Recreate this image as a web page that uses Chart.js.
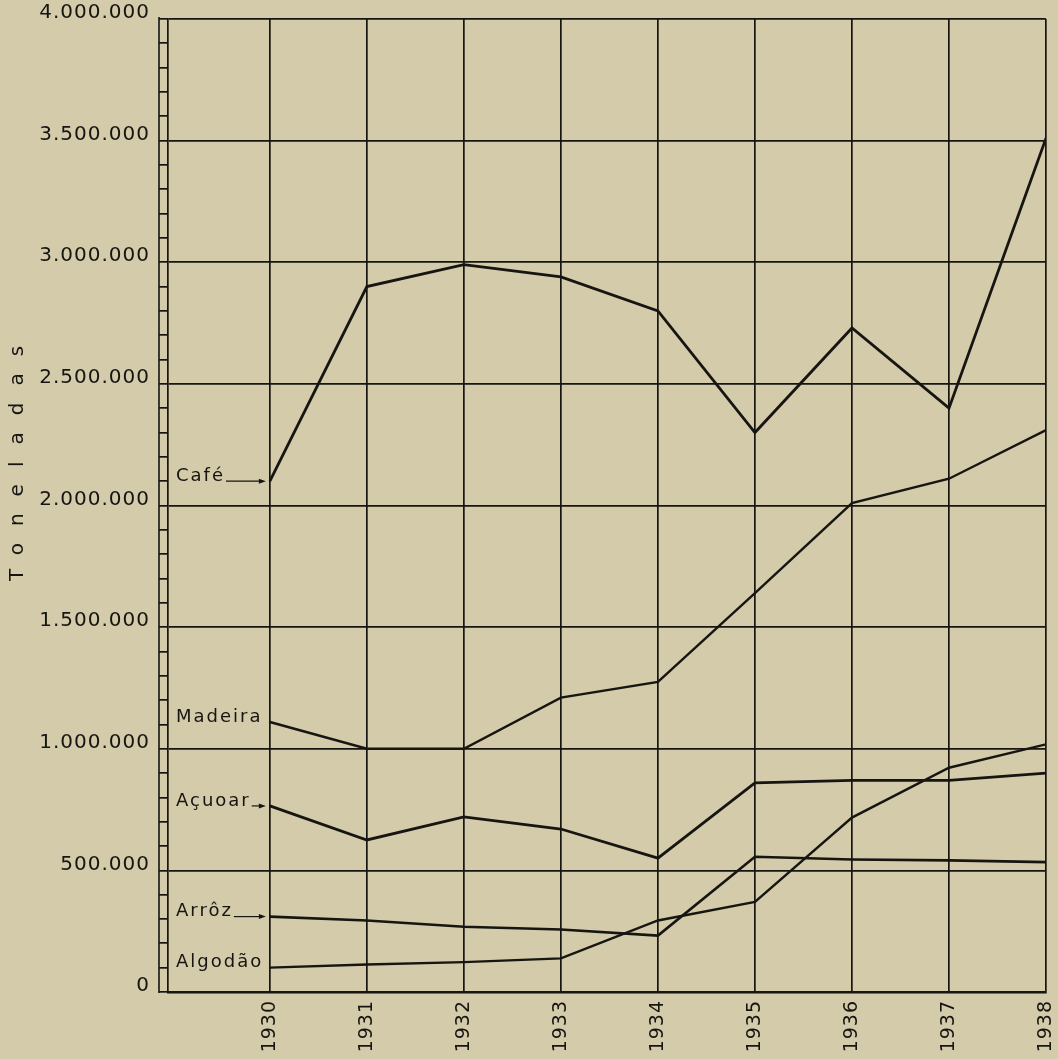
<!DOCTYPE html>
<html>
<head>
<meta charset="utf-8">
<script src="https://cdn.jsdelivr.net/npm/chart.js@4.4.1/dist/chart.umd.min.js"></script>
<style>
  html, body { margin: 0; padding: 0; background: #d3cba9; }
  #wrap { width: 1058px; height: 1059px; position: relative; }
</style>
</head>
<body>
<div id="wrap"><canvas id="Chart"></canvas></div>
<script>
const years = [1930, 1931, 1932, 1933, 1934, 1935, 1936, 1937, 1938];
const cafe = [2100000, 2900000, 2990000, 2940000, 2800000, 2300000, 2730000, 2400000, 3510000];
const madeira = [1110000, 1000000, 1000000, 1210000, 1275000, 1640000, 2010000, 2110000, 2310000];
const acuoar = [765000, 625000, 720000, 670000, 550000, 860000, 870000, 870000, 900000];
const arroz = [310000, 294000, 268000, 257000, 232000, 556000, 545000, 541000, 534000];
const algodao = [100000, 113000, 123000, 138000, 294000, 370000, 717000, 922000, 1018000];
const names = ['Café', 'Madeira', 'Açuoar', 'Arrôz', 'Algodão'];
const yTitle = 'Toneladas';

const ink = '#161512';

function pts(vals) {
  return vals.map((v, i) => ({ x: years[i], y: v }));
}

function fmt(v) {
  return String(v).replace(/\B(?=(\d{3})+(?!\d))/g, '.');
}

// labels at the start of each line, some with a little arrow
const withArrow = [true, false, true, true, false];
const seriesLabels = {
  id: 'seriesLabels',
  beforeDraw(chart) {
    chart.ctx.letterSpacing = '1px';
  },
  afterDraw(chart) {
    const ctx = chart.ctx;
    const area = chart.chartArea;
    ctx.save();
    // outer axis line
    ctx.strokeStyle = ink;
    ctx.lineWidth = 1.6;
    ctx.beginPath();
    ctx.moveTo(area.left - 9, area.top - 2);
    ctx.lineTo(area.left - 9, area.bottom + 1);
    ctx.stroke();

    ctx.fillStyle = ink;
    ctx.font = '18px "DejaVu Sans"';
    ctx.letterSpacing = '2px';
    ctx.textAlign = 'left';
    ctx.textBaseline = 'middle';
    chart.data.datasets.forEach((ds, i) => {
      const p = chart.getDatasetMeta(i).data[0];
      const x0 = area.left + 8;
      ctx.fillText(ds.label, x0, p.y - 5);
      if (withArrow[i]) {
        const w = ctx.measureText(ds.label).width;
        const xa = x0 + w + 1;
        const xb = p.x - 4;
        ctx.lineWidth = 1.2;
        ctx.beginPath();
        ctx.moveTo(xa, p.y);
        ctx.lineTo(xb - 5, p.y);
        ctx.stroke();
        ctx.beginPath();
        ctx.moveTo(xb, p.y);
        ctx.lineTo(xb - 7, p.y - 2.5);
        ctx.lineTo(xb - 7, p.y + 2.5);
        ctx.closePath();
        ctx.fill();
      }
    });

    // y title, spaced letters
    ctx.translate(18, 463);
    ctx.rotate(-Math.PI / 2);
    ctx.font = '20px "DejaVu Sans"';
    ctx.letterSpacing = '17px';
    ctx.textAlign = 'center';
    ctx.fillText(yTitle, 8, 0);
    ctx.restore();
  }
};

const ctx = document.getElementById('Chart').getContext('2d');
const myChart = new Chart(ctx, {
  type: 'line',
  data: {
    datasets: [
      { label: names[0], data: pts(cafe), borderWidth: 2.8 },
      { label: names[1], data: pts(madeira), borderWidth: 2.4 },
      { label: names[2], data: pts(acuoar), borderWidth: 2.8 },
      { label: names[3], data: pts(arroz), borderWidth: 2.6 },
      { label: names[4], data: pts(algodao), borderWidth: 2.4 }
    ].map(d => Object.assign(d, {
      borderColor: ink,
      backgroundColor: ink,
      pointRadius: 0,
      tension: 0,
      fill: false
    }))
  },
  options: {
    responsive: true,
    maintainAspectRatio: false,
    animation: false,
    layout: { padding: { top: 19, right: 12, left: 0, bottom: 0 } },
    plugins: {
      legend: { display: false },
      tooltip: { enabled: false }
    },
    scales: {
      x: {
        type: 'linear',
        min: 1928.95,
        max: 1938,
        afterBuildTicks: s => { s.ticks = years.map(v => ({ value: v })); },
        afterFit: s => { s.height = 67; s.paddingLeft = 0; s.paddingRight = 0; },
        grid: { color: ink, lineWidth: 1.7, drawTicks: false },
        border: { color: ink, width: 2.4 },
        ticks: {
          autoSkip: false,
          minRotation: 90,
          maxRotation: 90,
          padding: 8,
          color: ink,
          font: { family: 'DejaVu Sans', size: 19 },
          callback: v => String(v)
        }
      },
      y: {
        min: 0,
        max: 4000000,
        afterFit: s => { s.width = 168; s.paddingTop = 0; s.paddingBottom = 0; },
        grid: {
          color: c => (c.tick && c.tick.value % 500000 === 0) ? ink : 'rgba(0,0,0,0)',
          tickColor: ink,
          tickLength: 9,
          lineWidth: 1.7
        },
        border: { color: ink, width: 1.7 },
        ticks: {
          stepSize: 100000,
          autoSkip: false,
          padding: 9,
          labelOffset: -6,
          color: ink,
          font: { family: 'DejaVu Sans', size: 20 },
          callback: v => (v % 500000 === 0 ? fmt(v) : '')
        }
      }
    }
  },
  plugins: [seriesLabels]
});
</script>
</body>
</html>
